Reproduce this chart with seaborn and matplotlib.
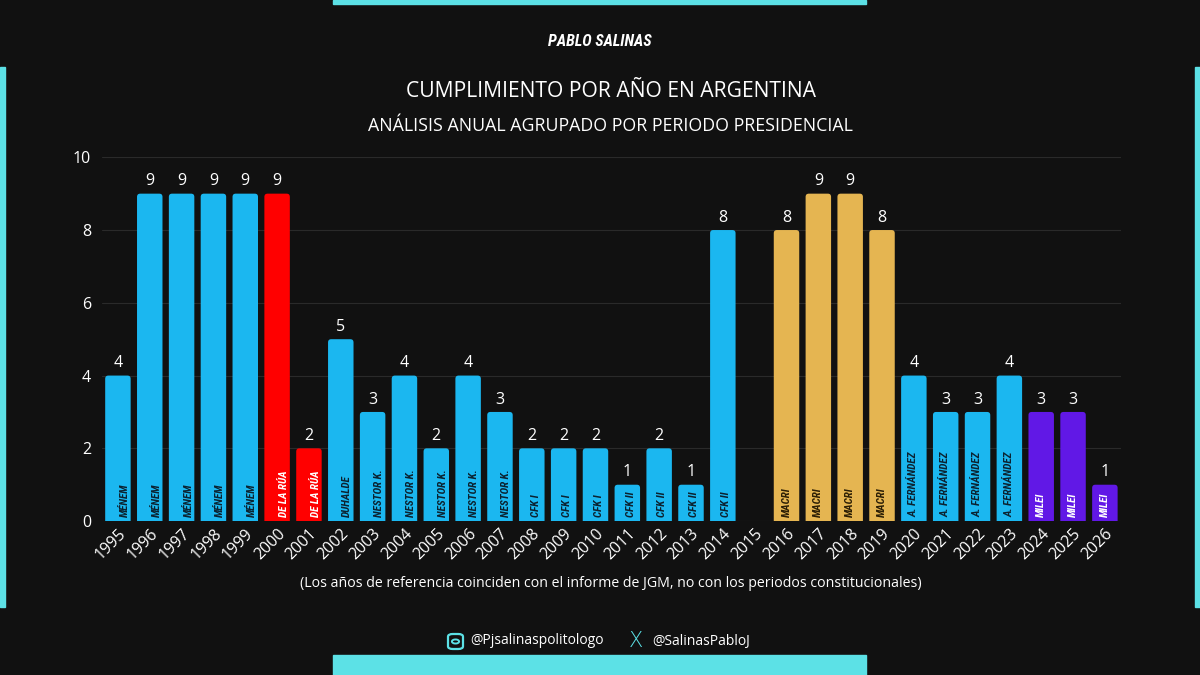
import numpy as np
import pandas as pd
import seaborn as sns
import matplotlib.pyplot as plt
from matplotlib.patches import Rectangle, FancyBboxPatch, Circle

# --- data ---
years = [str(y) for y in range(1995, 2027)]
values = [4, 9, 9, 9, 9, 9, 2, 5, 3, 4, 2, 4, 3, 2, 2, 2, 1, 2, 1, 8,
          np.nan, 8, 9, 9, 8, 4, 3, 3, 4, 3, 3, 1]
presidents = (["MÉNEM"] * 5 + ["DE LA RÚA"] * 2 + ["DUHALDE"] + ["NESTOR K."] * 5
              + ["CFK I"] * 3 + ["CFK II"] * 4 + [""] + ["MACRI"] * 4
              + ["A. FERNÁNDEZ"] * 4 + ["MILEI"] * 3)

title = "CUMPLIMIENTO POR AÑO EN ARGENTINA"
subtitle = "ANÁLISIS ANUAL AGRUPADO POR PERIODO PRESIDENCIAL"
note = "(Los años de referencia coinciden con el informe de JGM, no con los periodos constitucionales)"

df = pd.DataFrame({"anio": years, "valor": values, "presidente": presidents})

# --- style ---
BG = "#111111"
CYAN = "#5CE1E6"
bar_colors = {"MÉNEM": "#1BB7F0", "DE LA RÚA": "#FF0000", "DUHALDE": "#1BB7F0",
              "NESTOR K.": "#1BB7F0", "CFK I": "#1BB7F0", "CFK II": "#1BB7F0", "": "#1BB7F0",
              "MACRI": "#E5B551", "A. FERNÁNDEZ": "#1BB7F0", "MILEI": "#6118E6"}
label_colors = {"DE LA RÚA": "white", "MILEI": "white", "MACRI": "#2b1e05"}
label_shift = {"MÉNEM": 0.22, "DE LA RÚA": 0.22, "DUHALDE": 0.18, "NESTOR K.": 0.2,
               "CFK I": 0.12, "CFK II": 0.1}

sns.set_theme(style="dark")
plt.rcParams["font.family"] = ["Open Sans", "DejaVu Sans"]
NARROW = ["Liberation Sans Narrow", "Roboto Condensed", "Roboto", "DejaVu Sans"]

fig = plt.figure(figsize=(12, 6.75), dpi=100, facecolor=BG)

# cyan frame pieces
for r in [(333 / 1200, 1 - 4 / 675, 533 / 1200, 4 / 675),
          (333 / 1200, 0, 533 / 1200, 20 / 675),
          (0, 68 / 675, 5 / 1200, 540 / 675),
          (1195 / 1200, 68 / 675, 5 / 1200, 540 / 675)]:
    fig.patches.append(Rectangle(r[:2], r[2], r[3], transform=fig.transFigure,
                                 color=CYAN, zorder=1))

ax = fig.add_axes([0.085, 0.228, 0.849, 0.539])
ax.set_facecolor("none")
sns.barplot(data=df, x="anio", y="valor", hue="presidente", palette=bar_colors,
            dodge=False, legend=False, width=0.8, saturation=1, linewidth=0,
            edgecolor="none", ax=ax, zorder=3)

# swap plain bars for ones with rounded top corners
for bar in list(ax.patches):
    h = bar.get_height()
    if np.isnan(h) or h <= 0:
        bar.remove()
        continue
    rb = FancyBboxPatch((bar.get_x(), -0.2), bar.get_width(), h + 0.2,
                        boxstyle="round,pad=0,rounding_size=0.1", mutation_aspect=0.875,
                        facecolor=bar.get_facecolor(), edgecolor="none", zorder=3)
    ax.add_patch(rb)
    bar.remove()

ax.set_ylim(0, 10)
ax.set_xlim(-0.5, len(years) - 0.5)
ax.set_yticks(range(0, 11, 2))
ax.grid(axis="y", color="#2a2a2a", linewidth=0.8, zorder=0)
ax.grid(axis="x", visible=False)
for s in ax.spines.values():
    s.set_visible(False)
ax.tick_params(axis="both", length=0, colors="white", labelsize=11.5)
ax.tick_params(axis="y", pad=8)
ax.tick_params(axis="x", pad=3)
ax.set_xlabel("")
ax.set_ylabel("")
plt.setp(ax.get_xticklabels(), rotation=45, ha="right", rotation_mode="anchor")

for i, (v, p) in enumerate(zip(values, presidents)):
    if np.isnan(v):
        continue
    ax.text(i, v + 0.12, f"{int(v)}", ha="center", va="bottom", color="white",
            fontsize=11.5, zorder=4)
    ax.text(i + label_shift.get(p, 0), 0.1, p, rotation=90, ha="center", va="bottom",
            color=label_colors.get(p, "#0b2230"), fontsize=8, family=NARROW,
            weight="bold", style="italic", zorder=4)

# header texts
fig.text(0.5, 0.939, "PABLO SALINAS", ha="center", va="center", color="white",
         fontsize=11.5, family=NARROW, weight="bold", style="italic")
fig.text(0.509, 0.864, title, ha="center", va="center", color="white", fontsize=15.2)
fig.text(0.509, 0.813, subtitle, ha="center", va="center", color="white", fontsize=12.8)
fig.text(0.509, 0.136, note, ha="center", va="center", color="white", fontsize=10.2)

# footer with handles
ig = FancyBboxPatch((448 / 1200, 1 - 649 / 675), 15 / 1200, 15 / 675,
                    boxstyle="round,pad=0,rounding_size=0.004", transform=fig.transFigure,
                    facecolor="none", edgecolor=CYAN, linewidth=1.6)
fig.patches.append(ig)
fig.patches.append(Circle((455.5 / 1200, 1 - 641.5 / 675), 3.6 / 1200,
                          transform=fig.transFigure, facecolor="none",
                          edgecolor=CYAN, linewidth=1.4))
fig.text(470 / 1200, 1 - 641 / 675, "@Pjsalinaspolitologo", ha="left", va="center",
         color="white", fontsize=10)
fig.text(636 / 1200, 1 - 641 / 675, "X", ha="center", va="center", color=CYAN,
         fontsize=15, family=["DejaVu Sans"], weight="light")
fig.text(652 / 1200, 1 - 641 / 675, "@SalinasPabloJ", ha="left", va="center",
         color="white", fontsize=10)

fig.savefig("out.png", dpi=100, facecolor=BG)
